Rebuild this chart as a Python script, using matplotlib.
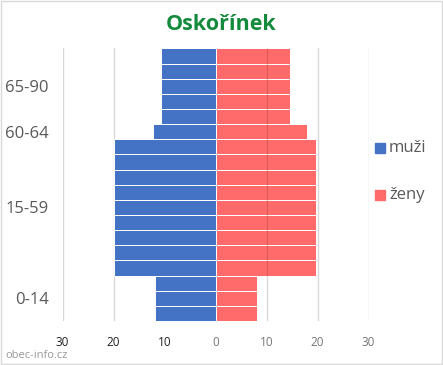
import numpy as np
import matplotlib
matplotlib.use("Agg")
import matplotlib.pyplot as plt
from matplotlib.patches import Rectangle

# one value per row, bottom row first
muzi = [11.8, 11.8, 11.8,
        19.9, 19.9, 19.9, 19.9, 19.9, 19.9, 19.9, 19.9, 19.9,
        12.2,
        10.8, 10.8, 10.8, 10.8, 10.8]
zeny = [8.2, 8.2, 8.2,
        19.6, 19.6, 19.6, 19.6, 19.6, 19.6, 19.6, 19.6, 19.6,
        18.0,
        14.6, 14.6, 14.6, 14.6, 14.6]
group_labels = ["0-14", "15-59", "60-64", "65-90"]
group_rows = [(0, 2), (3, 11), (12, 12), (13, 17)]
x_ticks = [-30, -20, -10, 0, 10, 20, 30]
title = "Oskořínek"
series_names = ["muži", "ženy"]

blue = "#4472c4"
red = "#ff6b6b"

plt.rcParams["font.family"] = ["Open Sans", "DejaVu Sans"]

fig = plt.figure(figsize=(4.43, 3.65), dpi=100)
ax = fig.add_axes([0.1415, 0.1205, 0.6907, 0.747])

rows = np.arange(len(muzi))
ax.barh(rows, -np.array(muzi), height=1.0, color=blue, edgecolor="white",
        linewidth=0.7, zorder=2, label=series_names[0])
ax.barh(rows, zeny, height=1.0, color=red, edgecolor="white",
        linewidth=0.7, zorder=2, label=series_names[1])

# grid
for t in x_ticks:
    if t != 0:
        ax.axvline(t, color="#d9d9d9", lw=1.0, zorder=1)
# the +10 line shows through the red bars where they are longer
for r, z in zip(rows, zeny):
    if z > 10:
        ax.vlines(10, r - 0.5, r + 0.5, color="#b04040", lw=1.0,
                  alpha=0.35, zorder=3)

ax.set_xlim(-30, 30)
ax.set_ylim(-0.5, len(muzi) - 0.5)

ax.set_xticks(x_ticks)
ax.set_xticklabels([str(abs(t)) for t in x_ticks], fontsize=8.5)
for lbl, t in zip(ax.get_xticklabels(), x_ticks):
    lbl.set_color("#222222" if t < 0 else "#777777")
ax.tick_params(axis="x", length=0, pad=11)

centers = [(a + b) / 2 for a, b in group_rows]
ax.set_yticks(centers)
ax.set_yticklabels(group_labels, fontsize=12, color="#595959")
ax.tick_params(axis="y", length=0, pad=10)

for s in ax.spines.values():
    s.set_visible(False)

# legend
fig.patches.append(Rectangle((375 / 443, 1 - 153 / 365), 10 / 443, 10 / 365,
                             transform=fig.transFigure, color=blue))
fig.patches.append(Rectangle((375 / 443, 1 - 200 / 365), 10 / 443, 10 / 365,
                             transform=fig.transFigure, color=red))
fig.text(389 / 443, 1 - 148 / 365, series_names[0], fontsize=12,
         color="#595959", va="center")
fig.text(389 / 443, 1 - 195 / 365, series_names[1], fontsize=12,
         color="#595959", va="center")

fig.text(221 / 443, 1 - 24 / 365, title, fontsize=15.5, fontweight="bold",
         color="#138a3c", ha="center", va="center")
fig.text(5 / 443, 1 - 355 / 365, "obec-info.cz", fontsize=8,
         color="#999999", va="center")

# light frame around the picture
fig.patches.append(Rectangle((0.002, 0.002), 0.995, 0.995,
                             transform=fig.transFigure, fill=False,
                             edgecolor="#d9d9d9", lw=1.0))

fig.savefig("out.png", dpi=100)
